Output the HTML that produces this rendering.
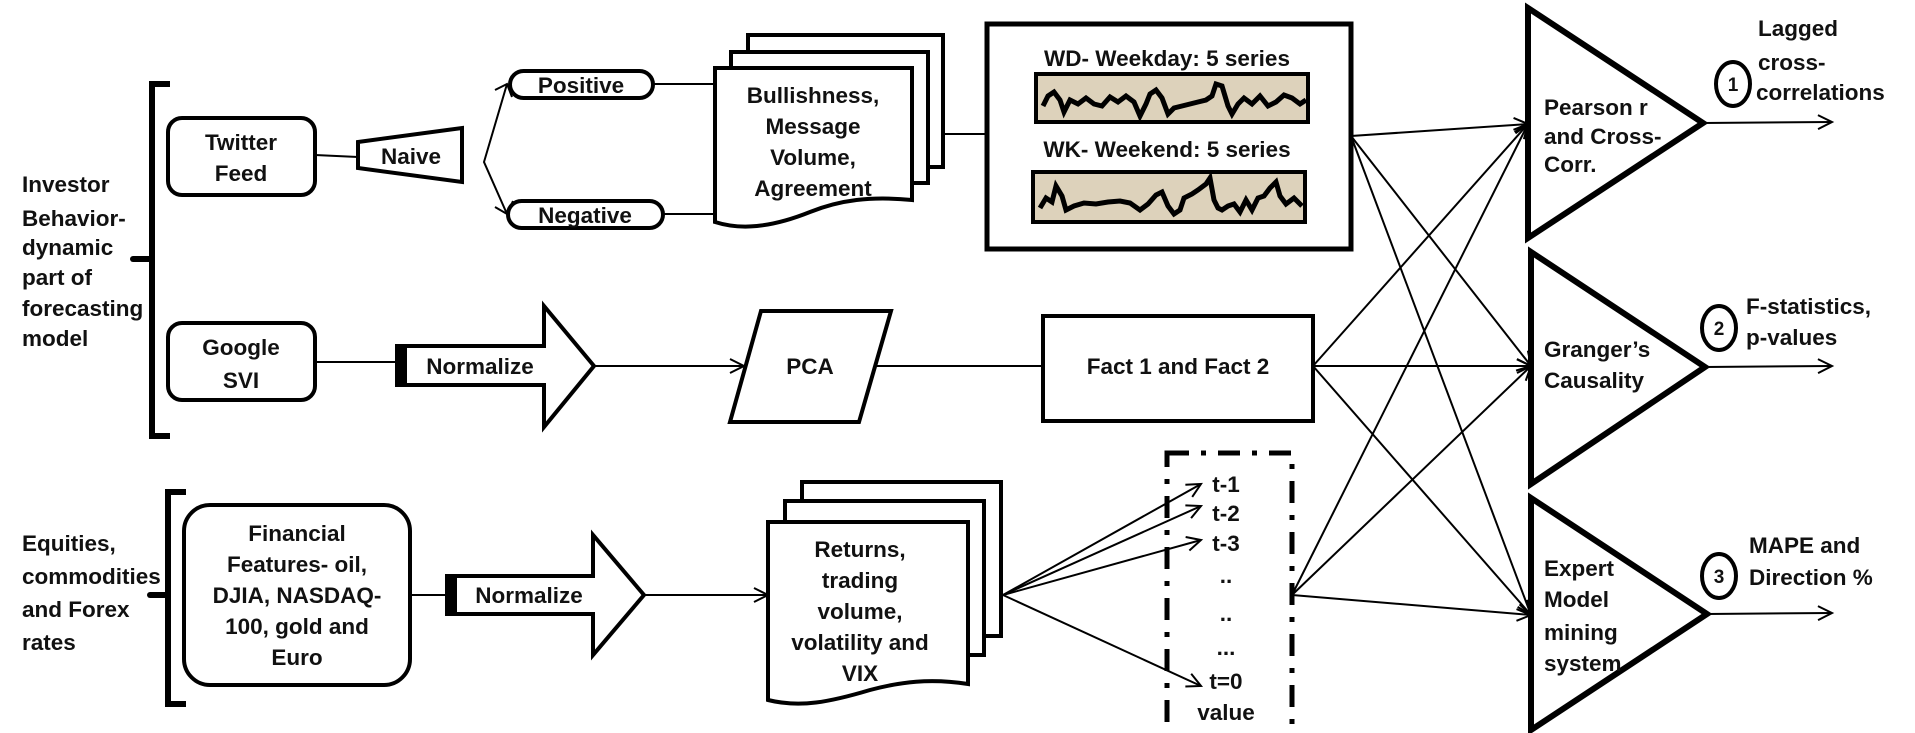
<!DOCTYPE html>
<html><head><meta charset="utf-8"><style>
html,body{margin:0;padding:0;background:#fff;}
svg{display:block;}
text{font-family:"Liberation Sans",sans-serif;font-weight:bold;font-size:22.5px;fill:#111;}
</style></head><body>
<svg width="1915" height="733" viewBox="0 0 1915 733" xmlns="http://www.w3.org/2000/svg">
<defs>
<marker id="a" markerWidth="20" markerHeight="20" refX="17" refY="10" orient="auto" markerUnits="userSpaceOnUse">
<polyline points="3,3 17,10 3,17" fill="none" stroke="#000" stroke-width="2"/>
</marker>
</defs>
<g stroke="#000" fill="none">
<path d="M170,84 H152 V436 H170" stroke-width="6"/>
<path d="M133,259 H152" stroke-width="6" stroke-linecap="round"/>
<path d="M186,492 H168 V704 H186" stroke-width="6"/>
<path d="M150,595 H168" stroke-width="6" stroke-linecap="round"/>

<rect x="168" y="118" width="147" height="77" rx="14" stroke-width="4"/>
<line x1="315" y1="155" x2="358" y2="157" stroke-width="2"/>
<polygon points="358,142 462,128 462,182 358,168" stroke-width="4" fill="#fff"/>
<polyline points="507,84 484,162 507,214" stroke-width="2" fill="none"/>
<polyline points="495,90 507,84 512,97" stroke-width="2"/>
<polyline points="495,207 507,214 513,201" stroke-width="2"/>
<rect x="510" y="71" width="143" height="27" rx="13.5" stroke-width="4"/>
<rect x="508" y="201" width="155" height="27" rx="13.5" stroke-width="4"/>
<line x1="653" y1="84" x2="715" y2="84" stroke-width="2"/>
<line x1="663" y1="214" x2="715" y2="214" stroke-width="2"/>
<rect x="748" y="35" width="195" height="132" stroke-width="4" fill="#fff"/>
<rect x="731" y="52" width="197" height="131" stroke-width="4" fill="#fff"/>
<path d="M715,68 H912 V200 C870,196 840,200 810,212 C770,228 740,230 715,222 Z" stroke-width="4" fill="#fff"/>
<line x1="943" y1="134" x2="987" y2="134" stroke-width="2"/>
<rect x="987" y="24" width="364" height="225" stroke-width="5"/>
<rect x="1036" y="74" width="272" height="48" stroke-width="4" fill="#ddd2bb"/>
<polyline points="1043,106 1048,96 1054,92 1060,100 1064,112 1070,100 1078,104 1086,98 1094,104 1102,106 1110,97 1118,102 1126,96 1134,102 1140,116 1146,104 1150,94 1156,90 1162,98 1168,114 1174,108 1182,106 1190,104 1198,102 1206,100 1212,96 1216,84 1222,86 1228,106 1232,114 1238,104 1244,98 1252,104 1260,96 1268,106 1276,102 1284,95 1292,98 1300,104 1306,100" stroke-width="5"/>
<rect x="1033" y="172" width="272" height="50" stroke-width="4" fill="#ddd2bb"/>
<polyline points="1040,208 1046,198 1052,202 1056,186 1062,196 1066,210 1074,206 1084,203 1096,204 1108,202 1120,201 1130,203 1140,210 1148,204 1156,195 1162,192 1168,206 1174,214 1180,210 1184,198 1192,194 1198,190 1206,184 1210,178 1214,200 1218,208 1222,210 1228,206 1234,204 1240,212 1246,200 1252,210 1258,198 1264,196 1270,188 1276,182 1280,196 1286,204 1294,198 1302,206" stroke-width="5"/>

<rect x="168" y="323" width="147" height="77" rx="14" stroke-width="4"/>
<line x1="315" y1="362" x2="397" y2="362" stroke-width="2"/>
<path d="M397,346 H544 V306 L594,366 L544,427 V385 H397 Z" stroke-width="4" fill="#fff"/>
<rect x="397" y="346" width="10" height="39" fill="#000" stroke="none"/>
<line x1="594" y1="366" x2="744" y2="366" stroke-width="2" marker-end="url(#a)"/>
<polygon points="761,311 891,311 859,422 730,422" stroke-width="4" fill="#fff"/>
<line x1="876" y1="366" x2="1043" y2="366" stroke-width="2"/>
<rect x="1043" y="316" width="270" height="105" stroke-width="4" fill="#fff"/>

<rect x="184" y="505" width="226" height="180" rx="26" stroke-width="4"/>
<line x1="410" y1="595" x2="447" y2="595" stroke-width="2"/>
<path d="M447,576 H593 V535 L644,595 L593,655 V614 H447 Z" stroke-width="4" fill="#fff"/>
<rect x="447" y="576" width="10" height="38" fill="#000" stroke="none"/>
<line x1="644" y1="595" x2="768" y2="595" stroke-width="2" marker-end="url(#a)"/>
<rect x="802" y="482" width="199" height="154" stroke-width="4" fill="#fff"/>
<rect x="785" y="501" width="199" height="154" stroke-width="4" fill="#fff"/>
<path d="M768,522 H968 V684 C930,678 900,682 870,690 C830,702 800,708 768,700 Z" stroke-width="4" fill="#fff"/>
<line x1="1003" y1="595" x2="1201" y2="484" stroke-width="2" marker-end="url(#a)"/>
<line x1="1003" y1="595" x2="1201" y2="506" stroke-width="2" marker-end="url(#a)"/>
<line x1="1003" y1="595" x2="1201" y2="540" stroke-width="2" marker-end="url(#a)"/>
<line x1="1003" y1="595" x2="1201" y2="686" stroke-width="2" marker-end="url(#a)"/>
<rect x="1167" y="453" width="125" height="290" stroke-width="5" stroke-dasharray="22,12,5,12"/>

<g stroke-width="2" marker-end="url(#a)">
<line x1="1351" y1="136" x2="1528" y2="124"/>
<line x1="1351" y1="136" x2="1531" y2="366"/>
<line x1="1351" y1="136" x2="1531" y2="615"/>
<line x1="1313" y1="366" x2="1528" y2="124"/>
<line x1="1313" y1="366" x2="1531" y2="366"/>
<line x1="1313" y1="366" x2="1531" y2="615"/>
<line x1="1292" y1="595" x2="1528" y2="124"/>
<line x1="1292" y1="595" x2="1531" y2="366"/>
<line x1="1292" y1="595" x2="1531" y2="615"/>
</g>
<polygon points="1528,8 1703,123 1528,238" stroke-width="6" fill="#fff"/>
<polygon points="1531,252 1705,367 1531,484" stroke-width="6" fill="#fff"/>
<polygon points="1531,498 1707,614 1531,730" stroke-width="6" fill="#fff"/>
<line x1="1703" y1="123" x2="1832" y2="122" stroke-width="2" marker-end="url(#a)"/>
<line x1="1705" y1="367" x2="1832" y2="366" stroke-width="2" marker-end="url(#a)"/>
<line x1="1707" y1="614" x2="1832" y2="613" stroke-width="2" marker-end="url(#a)"/>
<ellipse cx="1733" cy="84" rx="17" ry="22" stroke-width="4"/>
<ellipse cx="1719" cy="328" rx="17" ry="22" stroke-width="4"/>
<ellipse cx="1719" cy="576" rx="17" ry="22" stroke-width="4"/>
</g>

<g>
<text x="22" y="192">Investor</text>
<text x="22" y="226">Behavior-</text>
<text x="22" y="255">dynamic</text>
<text x="22" y="285">part of</text>
<text x="22" y="316">forecasting</text>
<text x="22" y="346">model</text>
<text x="22" y="551">Equities,</text>
<text x="22" y="584">commodities</text>
<text x="22" y="617">and Forex</text>
<text x="22" y="650">rates</text>
</g>
<g text-anchor="middle">
<text x="241" y="150">Twitter</text>
<text x="241" y="181">Feed</text>
<text x="411" y="164">Naive</text>
<text x="581" y="93">Positive</text>
<text x="585" y="223">Negative</text>
<text x="813" y="103">Bullishness,</text>
<text x="813" y="134">Message</text>
<text x="813" y="165">Volume,</text>
<text x="813" y="196">Agreement</text>
<text x="1167" y="66">WD- Weekday: 5 series</text>
<text x="1167" y="157">WK- Weekend: 5 series</text>
<text x="241" y="355">Google</text>
<text x="241" y="388">SVI</text>
<text x="480" y="374">Normalize</text>
<text x="810" y="374">PCA</text>
<text x="1178" y="374">Fact 1 and Fact 2</text>
<text x="297" y="541">Financial</text>
<text x="297" y="572">Features- oil,</text>
<text x="297" y="603">DJIA, NASDAQ-</text>
<text x="297" y="634">100, gold and</text>
<text x="297" y="665">Euro</text>
<text x="529" y="603">Normalize</text>
<text x="860" y="557">Returns,</text>
<text x="860" y="588">trading</text>
<text x="860" y="619">volume,</text>
<text x="860" y="650">volatility and</text>
<text x="860" y="681">VIX</text>
<text x="1226" y="492">t-1</text>
<text x="1226" y="521">t-2</text>
<text x="1226" y="551">t-3</text>
<text x="1226" y="583">..</text>
<text x="1226" y="621">..</text>
<text x="1226" y="655">...</text>
<text x="1226" y="689">t=0</text>
<text x="1226" y="720">value</text>
<text x="1733" y="91" style="font-size:19px">1</text>
<text x="1719" y="335" style="font-size:19px">2</text>
<text x="1719" y="583" style="font-size:19px">3</text>
</g>
<g>
<text x="1544" y="115">Pearson r</text>
<text x="1544" y="144">and Cross-</text>
<text x="1544" y="172">Corr.</text>
<text x="1544" y="357">Granger’s</text>
<text x="1544" y="388">Causality</text>
<text x="1544" y="576">Expert</text>
<text x="1544" y="607">Model</text>
<text x="1544" y="640">mining</text>
<text x="1544" y="671">system</text>
<text x="1758" y="36">Lagged</text>
<text x="1758" y="70">cross-</text>
<text x="1756" y="100">correlations</text>
<text x="1746" y="314">F-statistics,</text>
<text x="1746" y="345">p-values</text>
<text x="1749" y="553">MAPE and</text>
<text x="1749" y="585">Direction %</text>
</g>
</svg>
</body></html>
